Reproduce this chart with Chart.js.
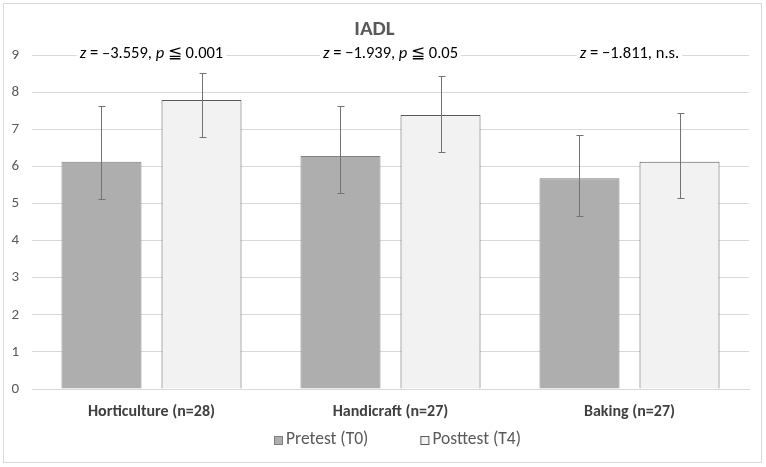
<!DOCTYPE html>
<html>
<head>
<meta charset="utf-8">
<script src="https://cdn.jsdelivr.net/npm/chart.js@4"></script>
<style>
  body { margin: 0; background: #fff; }
  #wrap { width: 766px; height: 467px; position: relative; }
</style>
</head>
<body>
<div id="wrap"><canvas id="iadl"></canvas></div>
<script>
const categories = ["Horticulture (n=28)", "Handicraft (n=27)", "Baking (n=27)"];
const pretest = [6.13, 6.28, 5.68];
const posttest = [7.79, 7.39, 6.13];
const pretestPlus = [1.49, 1.36, 1.17];
const pretestMinus = [1.0, 1.0, 1.01];
const posttestPlus = [0.73, 1.05, 1.31];
const posttestMinus = [1.0, 0.99, 0.99];
const yTicks = [0, 1, 2, 3, 4, 5, 6, 7, 8, 9];
// each note: [z value, has p, rest]
const notes = [
  ["\u20133.559", true, "0.001"],
  ["\u22121.939", true, "0.05"],
  ["\u22121.811", false, "n.s."],
];

const FONT = "Carlito, Calibri, Lato, sans-serif";
const errors = [
  { plus: pretestPlus, minus: pretestMinus },
  { plus: posttestPlus, minus: posttestMinus },
];

const frame = {
  id: "frame",
  beforeDraw(chart) {
    const ctx = chart.ctx;
    ctx.save();
    ctx.fillStyle = "#fff";
    ctx.fillRect(0, 0, chart.width, chart.height);
    ctx.strokeStyle = "#d9d9d9";
    ctx.lineWidth = 1;
    ctx.strokeRect(3.5, 3.5, 758, 459);
    ctx.restore();
  },
};

const errorBars = {
  id: "errorBars",
  afterDatasetsDraw(chart) {
    const ctx = chart.ctx;
    const y = chart.scales.y;
    ctx.save();
    ctx.strokeStyle = "#737373";
    ctx.lineWidth = 1;
    chart.data.datasets.forEach((ds, i) => {
      chart.getDatasetMeta(i).data.forEach((bar, j) => {
        const v = ds.data[j];
        const top = Math.round(y.getPixelForValue(v + errors[i].plus[j])) + 0.5;
        const bot = Math.round(y.getPixelForValue(v - errors[i].minus[j])) + 0.5;
        const x = Math.round(bar.x) + 0.5;
        ctx.beginPath();
        ctx.moveTo(x, top);
        ctx.lineTo(x, bot);
        ctx.moveTo(x - 3, top);
        ctx.lineTo(x + 4, top);
        ctx.moveTo(x - 3, bot);
        ctx.lineTo(x + 4, bot);
        ctx.stroke();
      });
    });
    ctx.restore();
  },
};

const stats = {
  id: "stats",
  afterDraw(chart) {
    const ctx = chart.ctx;
    const xs = chart.scales.x;
    const ty = chart.scales.y.getPixelForValue(9) - 1;
    const it = "italic 16.5px " + FONT;
    const nm = "16.5px " + FONT;
    ctx.save();
    ctx.textBaseline = "middle";
    notes.forEach((n, i) => {
      const parts = [[it, "z"], [nm, " = " + n[0] + ", "]];
      if (n[1]) {
        parts.push([it, "p"]);
        parts.push([nm, " \u2266 " + n[2]]);
      } else {
        parts.push([nm, n[2]]);
      }
      let w = 0;
      parts.forEach(p => { ctx.font = p[0]; w += ctx.measureText(p[1]).width; });
      let x = xs.getPixelForValue(i) - w / 2;
      ctx.fillStyle = "#fff";
      ctx.fillRect(x - 3, ty - 10, w + 6, 20);
      ctx.fillStyle = "#000";
      parts.forEach(p => {
        ctx.font = p[0];
        ctx.fillText(p[1], x, ty);
        x += ctx.measureText(p[1]).width;
      });
    });
    ctx.restore();
  },
};

// legend drawn by hand so the item spacing can follow the original
const legendBox = {
  id: "legendBox",
  afterDraw(chart) {
    const ctx = chart.ctx;
    const y = 440;
    let x = 274;
    ctx.save();
    ctx.font = "17.5px " + FONT;
    ctx.textBaseline = "middle";
    chart.data.datasets.forEach(ds => {
      ctx.fillStyle = ds.backgroundColor;
      ctx.fillRect(x, y - 4, 9, 9);
      ctx.strokeStyle = ds.borderColor;
      ctx.lineWidth = 1;
      ctx.strokeRect(x + 0.5, y - 3.5, 8, 8);
      ctx.fillStyle = "#595959";
      ctx.fillText(ds.label, x + 12, y);
      x += 12 + ctx.measureText(ds.label).width + 52;
    });
    ctx.restore();
  },
};

new Chart(document.getElementById("iadl"), {
  type: "bar",
  data: {
    labels: categories,
    datasets: [
      {
        label: "Pretest (T0)",
        data: pretest,
        backgroundColor: "#aeaeae",
        borderColor: "#7f7f7f",
        borderWidth: 1,
      },
      {
        label: "Posttest (T4)",
        data: posttest,
        backgroundColor: "#f2f2f2",
        borderColor: "#595959",
        borderWidth: 1,
      },
    ],
  },
  options: {
    responsive: true,
    maintainAspectRatio: false,
    animation: false,
    datasets: { bar: { categoryPercentage: 0.837, barPercentage: 0.8 } },
    layout: { padding: { left: 0, right: 17, top: 0, bottom: 46 } },
    plugins: {
      tooltip: { enabled: false },
      legend: { display: false },
      title: {
        display: true,
        text: "IADL",
        color: "#595959",
        font: { family: FONT, size: 21, weight: "bold" },
        padding: { top: 17, bottom: 13 },
      },
    },
    scales: {
      x: {
        grid: { display: false, drawTicks: false },
        border: { color: "#d9d9d9" },
        afterFit(s) { s.height = 32; },
        ticks: {
          color: "#404040",
          font: { family: FONT, size: 16, weight: "bold" },
          padding: 13,
        },
      },
      y: {
        min: 0,
        max: 9,
        afterFit(s) { s.width = 32; },
        afterBuildTicks(s) { s.ticks = yTicks.map(v => ({ value: v })); },
        grid: { color: "#d9d9d9", drawTicks: false },
        border: { display: false },
        ticks: {
          color: "#595959",
          font: { family: FONT, size: 15 },
          padding: 13,
        },
      },
    },
  },
  plugins: [frame, errorBars, stats, legendBox],
});
</script>
</body>
</html>
